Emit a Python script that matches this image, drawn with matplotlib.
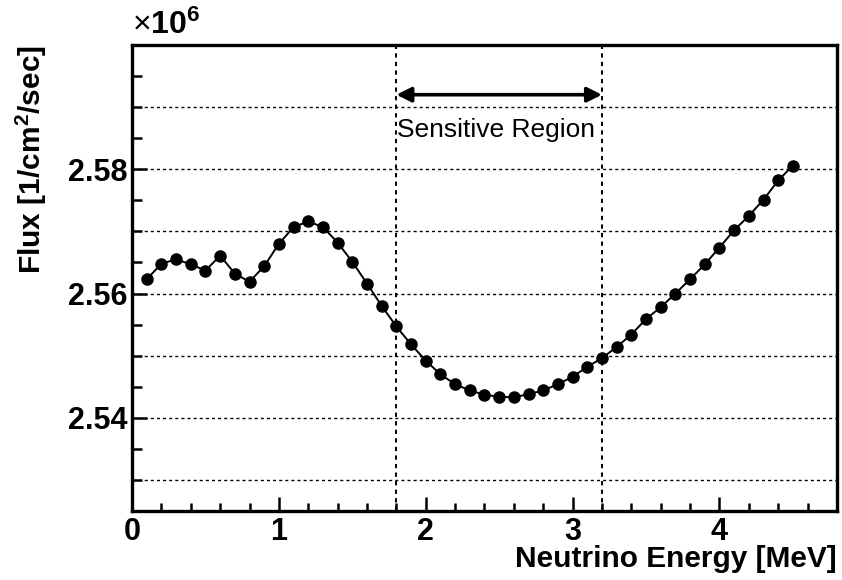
import numpy as np
import matplotlib
matplotlib.use("Agg")
import matplotlib.pyplot as plt
from matplotlib.ticker import MultipleLocator, FixedLocator

plt.rcParams['font.family'] = ['Liberation Sans', 'DejaVu Sans']
plt.rcParams['mathtext.fontset'] = 'custom'
plt.rcParams['mathtext.rm'] = 'Liberation Sans'
plt.rcParams['mathtext.bf'] = 'Liberation Sans:bold'

# neutrino energy (MeV) and flux (x 1e6 /cm2/sec)
energy = [0.1, 0.2, 0.3, 0.4, 0.5, 0.6, 0.7, 0.8, 0.9, 1.0,
          1.1, 1.2, 1.3, 1.4, 1.5, 1.6, 1.7, 1.8, 1.9, 2.0,
          2.1, 2.2, 2.3, 2.4, 2.5, 2.6, 2.7, 2.8, 2.9, 3.0,
          3.1, 3.2, 3.3, 3.4, 3.5, 3.6, 3.7, 3.8, 3.9, 4.0,
          4.1, 4.2, 4.3, 4.4, 4.5]
flux = [2.5623, 2.5648, 2.5655, 2.5647, 2.5637, 2.5661, 2.5632, 2.5619, 2.5644, 2.5680,
        2.5707, 2.5716, 2.5707, 2.5682, 2.5651, 2.5616, 2.5580, 2.5547, 2.5518, 2.5492,
        2.5470, 2.5454, 2.5444, 2.5437, 2.5434, 2.5433, 2.5438, 2.5444, 2.5454, 2.5466,
        2.5482, 2.5496, 2.5514, 2.5534, 2.5559, 2.5578, 2.5600, 2.5623, 2.5647, 2.5674,
        2.5702, 2.5725, 2.5751, 2.5782, 2.5806]

region = [1.8, 3.2]
hgrid = [2.53, 2.54, 2.55, 2.56, 2.57, 2.58, 2.59]

fig = plt.figure(figsize=(8.42, 5.8), dpi=100)
ax = fig.add_axes([0.1568, 0.119, 0.8372, 0.8034])

dash = (0, (2.2, 2.2))
for yv in hgrid:
    ax.axhline(yv, color='black', lw=1.0, ls=dash, zorder=1)
for xv in region:
    ax.axvline(xv, color='black', lw=1.4, ls=dash, zorder=1)

ax.plot(energy, flux, color='black', lw=1.4, marker='o', ms=8, zorder=3)

ax.annotate('', xy=(region[0], 2.5920), xytext=(region[1], 2.5920),
            arrowprops=dict(arrowstyle='<|-|>', color='black', lw=2.6,
                            mutation_scale=22, shrinkA=0, shrinkB=0))
ax.text(sum(region) / 2 - 0.02, 2.5864, 'Sensitive Region', fontsize=19,
        ha='center', va='center')

ax.set_xlim(0, 4.8)
ax.set_ylim(2.525, 2.6)

ax.xaxis.set_major_locator(MultipleLocator(1))
ax.xaxis.set_minor_locator(MultipleLocator(0.2))
ax.yaxis.set_major_locator(FixedLocator([2.54, 2.56, 2.58]))
ax.yaxis.set_minor_locator(MultipleLocator(0.005))
ax.xaxis.set_major_formatter(plt.FuncFormatter(lambda v, p: '%d' % v))
ax.yaxis.set_major_formatter(plt.FuncFormatter(lambda v, p: '%.2f' % v))

ax.tick_params(axis='both', which='both', direction='in', width=1.8,
               top=False, right=False, labelsize=22)
ax.tick_params(axis='y', which='major', length=11, pad=3)
ax.tick_params(axis='y', which='minor', length=7)
ax.tick_params(axis='x', which='major', length=10, pad=4)
ax.tick_params(axis='x', which='minor', length=6)
for lab in ax.get_xticklabels() + ax.get_yticklabels():
    lab.set_fontweight('bold')

for sp in ax.spines.values():
    sp.set_linewidth(2.4)

ax.set_xlabel('Neutrino Energy [MeV]', fontsize=21.5, fontweight='bold', loc='right')
ax.set_ylabel('Flux [1/cm$^{\\mathbf{2}}$/sec]', fontsize=21.5, fontweight='bold', loc='top')
ax.xaxis.set_label_coords(1.0, -0.072)
ax.yaxis.set_label_coords(-0.118, 1.0)

ax.text(0.0, 1.008, '$\\times\\mathbf{10^{6}}$', transform=ax.transAxes,
        fontsize=23, ha='left', va='bottom')

fig.savefig('out.png', dpi=100)
